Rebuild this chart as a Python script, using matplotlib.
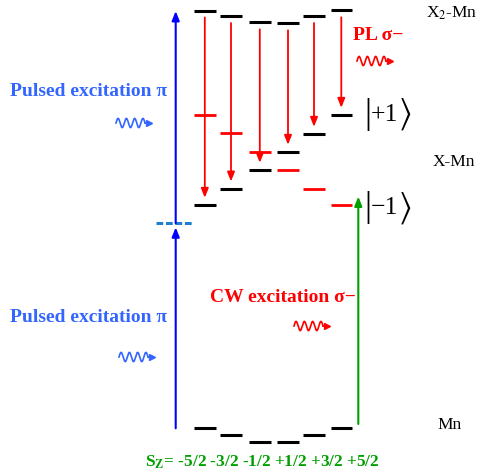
import numpy as np
import matplotlib
matplotlib.use("Agg")
import matplotlib.pyplot as plt

plt.rcParams['font.family'] = ['Liberation Serif', 'DejaVu Serif']
plt.rcParams['mathtext.fontset'] = 'stix'

# ---- data (energy positions in diagram units, y grows downward) ----
spin_labels = ["-5/2", "-3/2", "-1/2", "+1/2", "+3/2", "+5/2"]
col_x = [204.8, 231.0, 259.8, 288.0, 314.0, 341.3]
E_x2 = [10.5, 16.0, 22.3, 23.3, 16.0, 10.3]
E_x_black = [205.3, 189.0, 170.3, 152.3, 134.3, 115.3]
E_x_red = [115.3, 133.3, 152.0, 170.3, 188.7, 205.0]
E_mn = [428.3, 435.0, 441.7, 441.7, 434.7, 428.3]
ket_labels = ["+1", "\u22121"]
ket_levels = [114.5, 208.0]
level_width = 21.5

BLUE = "#0000ff"
TBLUE = "#3366ff"
RED = "#ff0000"
GREEN = "#00a000"

fig = plt.figure(figsize=(4.83, 4.75), dpi=100)
ax = fig.add_axes([0, 0, 1, 1])
ax.set_xlim(0, 483)
ax.set_ylim(475, 0)
ax.axis('off')

hw = level_width / 2
for x, e2, eb, er, em in zip(col_x, E_x2, E_x_black, E_x_red, E_mn):
    ax.plot([x - hw, x + hw], [e2, e2], color='black', lw=2.2, solid_capstyle='butt')
    ax.plot([x - hw, x + hw], [eb, eb], color='black', lw=2.2, solid_capstyle='butt')
    ax.plot([x - hw, x + hw], [er, er], color=RED, lw=2.0, solid_capstyle='butt')
    ax.plot([x - hw, x + hw], [em, em], color='black', lw=2.2, solid_capstyle='butt')
    # PL arrow from X2 to X level
    ax.annotate('', xy=(x, eb - 7.5), xytext=(x, e2 + 7),
                arrowprops=dict(arrowstyle='-|>,head_length=0.55,head_width=0.22',
                                color=RED, lw=1.3, shrinkA=0, shrinkB=0))

# blue pulsed excitation arrows
blue_x = 175.7
dash_y = 223.3
ax.annotate('', xy=(blue_x, dash_y + 4), xytext=(blue_x, E_mn[0]),
            arrowprops=dict(arrowstyle='-|>,head_length=0.55,head_width=0.22',
                            color=BLUE, lw=1.5, shrinkA=0, shrinkB=0))
ax.annotate('', xy=(blue_x, 11), xytext=(blue_x, dash_y),
            arrowprops=dict(arrowstyle='-|>,head_length=0.55,head_width=0.22',
                            color=BLUE, lw=1.5, shrinkA=0, shrinkB=0))
ax.plot([156, 192.3], [dash_y, dash_y], color='#1e7fd0', lw=2.2, ls=(0, (2.2, 0.9)))

# green CW arrow
green_x = 358.3
ax.annotate('', xy=(green_x, 196.5), xytext=(green_x, 424),
            arrowprops=dict(arrowstyle='-|>,head_length=0.55,head_width=0.22',
                            color=GREEN, lw=1.5, shrinkA=0, shrinkB=0))


def wavy(x0, y0, w, color, amp=4.6, periods=3.5):
    t = np.linspace(0, 1, 200)
    xs = x0 + t * w
    ys = y0 - amp * np.sin(2 * np.pi * periods * t)
    ax.plot(xs, ys, color=color, lw=1.2)
    ax.plot([x0 + w, x0 + w + 5], [y0, y0], color=color, lw=1.2)
    ax.plot(x0 + w + 4, y0, marker='>', color=color, ms=4, mec=color)


wavy(357, 61, 29, RED)
wavy(116, 123, 29, TBLUE)
wavy(119, 357, 29, TBLUE)
wavy(294, 326, 29, RED)

# labels
ax.text(452, 13.5, r"X$_2$-Mn", fontsize=12.5, ha='center', va='center')
ax.text(454, 162, "X-Mn", fontsize=12.5, ha='center', va='center')
ax.text(450, 425, "Mn", fontsize=12.5, ha='center', va='center')

# kets |+1> and |-1>
for yk, lab in zip(ket_levels, ket_labels):
    ax.text(371.0, yk, "|", fontsize=25, ha='right', va='center')
    ax.text(371.2, yk + 0.5, lab, fontsize=18.5, ha='left', va='center')
    ax.text(398.0, yk, r"$\rangle$", fontsize=25, ha='left', va='center')

ax.text(353, 35, "PL σ−", fontsize=14, color=RED, fontweight='bold', ha='left', va='center')
ax.text(89, 92, "Pulsed excitation π", fontsize=14, color=TBLUE, fontweight='bold',
        ha='center', va='center')
ax.text(89, 318, "Pulsed excitation π", fontsize=14, color=TBLUE, fontweight='bold',
        ha='center', va='center')
ax.text(283, 297, "CW excitation σ−", fontsize=14, color=RED, fontweight='bold',
        ha='center', va='center')
ax.text(145, 462, r"S$_\mathbf{Z}$= " + " ".join(spin_labels), fontsize=12.4,
        color=GREEN, fontweight='bold', ha='left', va='center')

fig.savefig("out.png", dpi=100)
